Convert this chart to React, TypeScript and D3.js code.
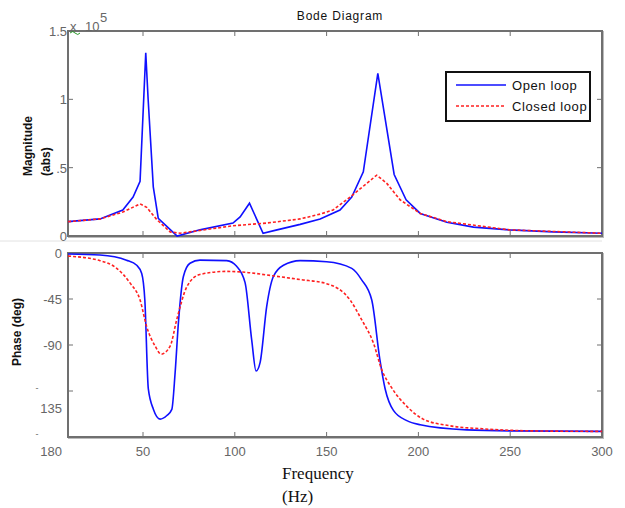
import React from "react";
import * as d3 from "d3";

// Frequency (Hz) / value pairs
const magOpenFreq = [9.2, 26.6, 39, 44.6, 48.4, 51.5, 52.8, 55.6, 58.3, 68.6, 81, 99, 102.9, 108, 115.4, 123, 135.6, 146.5, 157.3, 163.7, 170, 177.9, 186.8, 193.3, 201, 215.5, 230, 249.5, 273.5, 300];
const magOpen = [0.105, 0.125, 0.19, 0.285, 0.4, 1.34, 1.0, 0.36, 0.13, 0.0, 0.045, 0.095, 0.14, 0.24, 0.02, 0.045, 0.085, 0.125, 0.19, 0.285, 0.47, 1.19, 0.45, 0.265, 0.165, 0.1, 0.065, 0.045, 0.03, 0.02];

const magClosedFreq = [9.2, 26.6, 39, 48.4, 52, 57.5, 64.8, 70.2, 99, 117.6, 135.6, 146.5, 153.5, 162.8, 177.3, 182.8, 190, 201, 215.5, 249.5, 300];
const magClosed = [0.105, 0.125, 0.175, 0.235, 0.21, 0.12, 0.03, 0.02, 0.075, 0.095, 0.125, 0.16, 0.19, 0.285, 0.445, 0.385, 0.265, 0.165, 0.105, 0.045, 0.02];

const phOpenFreq = [9.2, 26.6, 41, 46.6, 49.3, 51, 52.9, 55.7, 59.3, 63, 65.7, 67.5, 69.3, 72, 75.6, 81, 95.6, 101, 105.6, 109.2, 111.6, 113.8, 117.4, 121, 126.5, 135.6, 150, 163.7, 169, 174.6, 179, 181.9, 186.4, 193.7, 201, 226.4, 249.5, 300];
const phOpen = [-1, -2, -7, -12, -20, -46, -133, -153, -162.5, -159, -153, -117, -68, -23, -10, -7, -7.5, -13, -29, -85, -115.5, -107, -52, -23, -12, -7.5, -8.5, -15, -26, -46, -104, -133, -154, -164, -168, -173, -174, -174.5];

const phClosedFreq = [9.2, 26.6, 35.7, 43, 48.4, 52, 56.6, 59.9, 64.8, 68.4, 73.9, 81, 95.6, 106.5, 117.4, 135.6, 150, 162.8, 169, 175.5, 180, 185.5, 193.7, 202.6, 217, 235, 262, 300];
const phClosed = [-3, -7.5, -15, -29.5, -46, -72, -91, -99, -91, -65, -33, -21, -18, -19, -21.5, -26, -30, -46, -65, -88, -114, -132, -150, -162.5, -169, -172, -174, -174.5];

const xTicks = [50, 100, 150, 200, 250, 300];
const magTicks = [0, 0.5, 1, 1.5];
const magTickLabels = ["0", ".5", "1", "1.5"];
const phTicks = [0, -45, -90, -135, -180];
const seriesNames = ["Open loop", "Closed loop"];

const L = 68, R = 602;
const T1 = 31, B1 = 236;
const T2 = 253, B2 = 437;
const axisColor = "#707070";
const tickColor = "#666";
const sans = "Arial, 'Liberation Sans', sans-serif";

export default function App() {
  const x = d3.scaleLinear().domain([9.15, 300]).range([L, R]);
  const yM = d3.scaleLinear().domain([0, 1.5]).range([B1, T1]);
  const yP = d3.scaleLinear().domain([-180, 0]).range([B2, T2]);

  const lineM = d3.line<[number, number]>().x(d => x(d[0])).y(d => yM(d[1]));
  const lineP = d3.line<[number, number]>().x(d => x(d[0])).y(d => yP(d[1])).curve(d3.curveMonotoneX);
  const zip = (a: number[], b: number[]) => a.map((v, i) => [v, b[i]] as [number, number]);

  const frame = (top: number, bottom: number, ys: number[], yScale: (v: number) => number) => (
    <g>
      <rect x={L + 1} y={top + 1} width={R - L} height={bottom - top} fill="none" stroke="#bbb" strokeWidth={2} />
      <rect x={L} y={top} width={R - L} height={bottom - top} fill="#fff" stroke={axisColor} strokeWidth={2} />
      {xTicks.map(t => (
        <g key={"xt" + t}>
          <line x1={x(t)} x2={x(t)} y1={bottom} y2={bottom - 5} stroke={axisColor} strokeWidth={1} />
          <line x1={x(t)} x2={x(t)} y1={top} y2={top + 5} stroke={axisColor} strokeWidth={1} />
        </g>
      ))}
      {ys.map(t => (
        <g key={"yt" + t}>
          <line x1={L} x2={L + 5} y1={yScale(t)} y2={yScale(t)} stroke={axisColor} strokeWidth={1} />
          <line x1={R} x2={R - 5} y1={yScale(t)} y2={yScale(t)} stroke={axisColor} strokeWidth={1} />
        </g>
      ))}
    </g>
  );

  return (
    <svg width={625} height={508} style={{ position: "absolute", left: 0, top: 0, background: "#fff" }}>
      <rect x={0} y={0} width={625} height={508} fill="#fff" />
      <line x1={0} x2={R} y1={241} y2={241} stroke="#e2e2e2" strokeWidth={1} />

      {frame(T1, B1, magTicks, yM)}
      {frame(T2, B2, phTicks, yP)}

      {magTicks.map((t, i) => (
        <text key={"ml" + t} x={L - 1} y={yM(t) + 5} textAnchor="end" fontFamily={sans} fontSize={13} fill={tickColor}>
          {magTickLabels[i]}
        </text>
      ))}
      <text x={70} y={31} fontFamily={sans} fontSize={13} fill={tickColor}>x</text>
      <text x={85} y={31} fontFamily={sans} fontSize={13} fill={tickColor}>10</text>
      <text x={100} y={22} fontFamily={sans} fontSize={13} fill={tickColor}>5</text>
      <path d="M70,33 q3,-3 5,0 q3,3 5,0" fill="none" stroke="#2a9a2a" strokeWidth={1} />

      <text x={L - 6} y={yP(0) + 5} textAnchor="end" fontFamily={sans} fontSize={13} fill={tickColor}>0</text>
      <text x={L - 6} y={yP(-45) + 5} textAnchor="end" fontFamily={sans} fontSize={13} fill={tickColor}>-45</text>
      <text x={L - 6} y={yP(-90) + 5} textAnchor="end" fontFamily={sans} fontSize={13} fill={tickColor}>-90</text>
      <text x={37} y={yP(-135)} textAnchor="middle" fontFamily={sans} fontSize={9} fill={tickColor}>-</text>
      <text x={L - 6} y={yP(-135) + 22} textAnchor="end" fontFamily={sans} fontSize={13} fill={tickColor}>135</text>
      <text x={37} y={yP(-180)} textAnchor="middle" fontFamily={sans} fontSize={9} fill={tickColor}>-</text>
      <text x={L - 6} y={yP(-180) + 19} textAnchor="end" fontFamily={sans} fontSize={13} fill={tickColor}>180</text>

      {xTicks.map(t => (
        <text key={"xl" + t} x={x(t)} y={B2 + 19} textAnchor="middle" fontFamily={sans} fontSize={13} fill={tickColor}>
          {t}
        </text>
      ))}

      <g>
        <path d={lineM(zip(magOpenFreq, magOpen)) || ""} fill="none" stroke="#1010ff" strokeWidth={1.6} />
        <path d={lineM(zip(magClosedFreq, magClosed)) || ""} fill="none" stroke="#ff2020" strokeWidth={1.6} strokeDasharray="3,2" />
        <path d={lineP(zip(phOpenFreq, phOpen)) || ""} fill="none" stroke="#1010ff" strokeWidth={1.6} />
        <path d={lineP(zip(phClosedFreq, phClosed)) || ""} fill="none" stroke="#ff2020" strokeWidth={1.6} strokeDasharray="3,2" />
      </g>

      <rect x={446} y={72} width={144} height={49} fill="#fff" stroke="#111" strokeWidth={2} />
      <line x1={456} x2={506} y1={85} y2={85} stroke="#1010ff" strokeWidth={1.6} />
      <line x1={456} x2={506} y1={106} y2={106} stroke="#ff2020" strokeWidth={1.6} strokeDasharray="3,2" />
      <text x={512} y={90} fontFamily={sans} fontSize={13} letterSpacing={0.6} fill="#111">{seriesNames[0]}</text>
      <text x={512} y={111} fontFamily={sans} fontSize={13} letterSpacing={0.6} fill="#111">{seriesNames[1]}</text>

      <text x={340} y={20} textAnchor="middle" fontFamily={sans} fontSize={12} letterSpacing={0.8} fill="#111">Bode Diagram</text>
      <text transform="translate(32,176) rotate(-90)" fontFamily={sans} fontSize={12} fontWeight="bold" fill="#111">Magnitude</text>
      <text transform="translate(50,176) rotate(-90)" fontFamily={sans} fontSize={12} fontWeight="bold" fill="#111">(abs)</text>
      <text transform="translate(21,332) rotate(-90)" textAnchor="middle" fontFamily={sans} fontSize={12} fontWeight="bold" fill="#111">Phase (deg)</text>
      <text x={282} y={479} fontFamily="'Liberation Serif', 'Times New Roman', serif" fontSize={17} fill="#111">Frequency</text>
      <text x={282} y={502} fontFamily="'Liberation Serif', 'Times New Roman', serif" fontSize={17} fill="#111">(Hz)</text>
    </svg>
  );
}
